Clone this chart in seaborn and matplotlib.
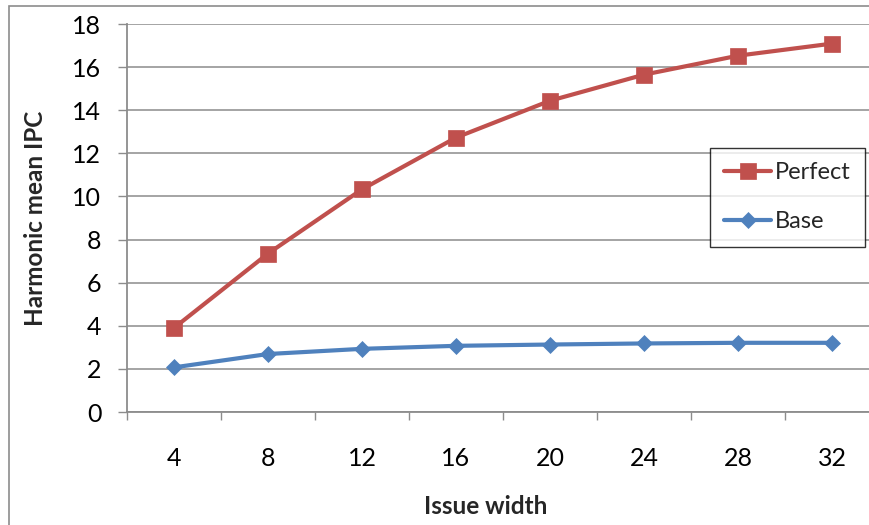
import matplotlib
matplotlib.use("Agg")
import matplotlib.pyplot as plt
from matplotlib.patches import Rectangle
from matplotlib.ticker import FixedLocator, NullFormatter
import numpy as np
import pandas as pd
import seaborn as sns

# Issue widths on the x axis and harmonic-mean IPC per configuration
issue_width = [4, 8, 12, 16, 20, 24, 28, 32]
perfect_ipc = [3.90, 7.35, 10.33, 12.73, 14.44, 15.65, 16.53, 17.09]
base_ipc = [2.07, 2.69, 2.93, 3.07, 3.13, 3.18, 3.21, 3.21]
y_ticks = [0, 2, 4, 6, 8, 10, 12, 14, 16, 18]

RED = "#C0504D"
BLUE = "#4F81BD"
GRID = "#8C8C8C"

sns.set_style("white")
plt.rcParams["font.family"] = ["Lato", "DejaVu Sans"]

W, H = 869, 525
fig = plt.figure(figsize=(W / 100, H / 100), dpi=100)

# plot area: left edge 127px, right edge runs past the figure, y from 24px to 412px
ax = fig.add_axes([127 / W, (H - 412) / H, (879 - 127) / W, (412 - 24) / H])

pos = np.arange(len(issue_width))
df = pd.DataFrame({
    "pos": np.concatenate([pos, pos]),
    "ipc": perfect_ipc + base_ipc,
    "series": ["Perfect"] * len(pos) + ["Base"] * len(pos),
})

sns.lineplot(data=df[df.series == "Perfect"], x="pos", y="ipc", ax=ax,
             color=RED, lw=3, marker="s", markersize=12, markeredgecolor=RED,
             markeredgewidth=0.5, label="Perfect", sort=False, zorder=3)
sns.lineplot(data=df[df.series == "Base"], x="pos", y="ipc", ax=ax,
             color=BLUE, lw=3, marker="D", markersize=8.5, markeredgecolor=BLUE,
             markeredgewidth=0.5, label="Base", sort=False, zorder=3)

ax.set_xlim(-0.5, len(pos) - 0.5)
ax.set_ylim(0, 18)
ax.set_yticks(y_ticks)
ax.set_yticklabels([str(v) for v in y_ticks])
ax.set_xticks(pos)
ax.set_xticklabels([str(v) for v in issue_width])
ax.xaxis.set_minor_locator(FixedLocator(np.arange(-0.5, len(pos), 1.0)))
ax.xaxis.set_minor_formatter(NullFormatter())

ax.grid(axis="y", color=GRID, lw=1.1)
ax.set_axisbelow(True)
for side in ["top", "right"]:
    ax.spines[side].set_visible(False)
for side in ["left", "bottom"]:
    ax.spines[side].set_color(GRID)
    ax.spines[side].set_linewidth(1.3)

ax.tick_params(axis="y", which="major", direction="out", length=6.5, width=1,
               color=GRID, pad=12, labelsize=18, labelcolor="black", left=True)
ax.tick_params(axis="x", which="major", length=0, pad=25, labelsize=18,
               labelcolor="black")
ax.tick_params(axis="x", which="minor", direction="out", length=6, width=1,
               color=GRID, bottom=True)

ax.set_xlabel("")
ax.set_ylabel("")
fig.text(486 / W, 1 - 507 / H, "Issue width", ha="center", va="center",
         fontsize=17.5, fontweight="bold")
fig.text(36 / W, 1 - 218 / H, "Harmonic mean IPC", ha="center", va="center",
         rotation=90, fontsize=17.5, fontweight="bold")

handles, labels = ax.get_legend_handles_labels()
leg = ax.legend(handles, labels, loc="upper left",
                bbox_to_anchor=(710 / W, 1 - 148 / H),
                bbox_transform=fig.transFigure, borderaxespad=0,
                fontsize=17, frameon=True, fancybox=False, handlelength=2.0,
                handletextpad=0.15, labelspacing=1.2, borderpad=0.6)
leg.get_frame().set_edgecolor("black")
leg.get_frame().set_linewidth(1)

# outer chart border
fig.patches.append(Rectangle((9 / W, -0.05), 1.2, 1.05 - 6 / H,
                             transform=fig.transFigure, fill=False,
                             edgecolor=GRID, lw=1.2))

fig.savefig("out.png", dpi=100)
